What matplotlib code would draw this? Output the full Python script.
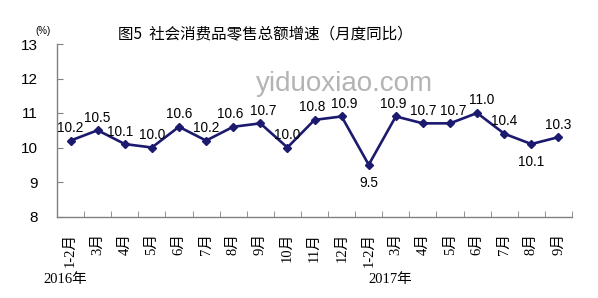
import matplotlib
matplotlib.use("Agg")
import matplotlib.pyplot as plt
from matplotlib.ticker import FixedLocator
import matplotlib.transforms as mtransforms

months = ["1-2月", "3月", "4月", "5月", "6月", "7月", "8月", "9月", "10月", "11月", "12月",
          "1-2月", "3月", "4月", "5月", "6月", "7月", "8月", "9月"]
values = [10.2, 10.5, 10.1, 10.0, 10.6, 10.2, 10.6, 10.7, 10.0, 10.8, 10.9,
          9.5, 10.9, 10.7, 10.7, 11.0, 10.4, 10.1, 10.3]
label_below = [False] * 11 + [True] + [False] * 5 + [True, False]
years = ["2016年", "2017年"]
year_pos = [-0.19, 11.81]
yticks = [8, 9, 10, 11, 12, 13]
title = "图5  社会消费品零售总额增速（月度同比）"

# small horizontal nudges (points) so neighbouring labels just touch, as in the reference
label_dx = [0, 0, -3, 0, 0, 0, -2, 2, 0, -2, 2, 0, -2, 0, 2, 3, 0, 0, 0]

plt.rcParams['font.family'] = ['Liberation Sans', 'Noto Sans CJK SC', 'DejaVu Sans']

fig = plt.figure(figsize=(5.98, 2.98), dpi=100)
ax = fig.add_axes([57/598, 1 - 216.5/298, 515/598, 172.5/298])

x = list(range(len(values)))
navy = "#1b1a6e"
ax.plot(x, values, color=navy, lw=1.9, marker="D", ms=4.5, mfc=navy, mec=navy, zorder=3)

for xi, v, below, dx in zip(x, values, label_below, label_dx):
    off = -13 if below else 9
    ax.annotate(f"{v:.1f}", (xi, v), xytext=(dx, off), textcoords="offset points",
                ha="center", va="center", fontsize=9.8, color="black")

ax.set_xlim(-0.5, len(values) - 0.5)
ax.set_ylim(8, 13)
ax.set_yticks(yticks)
ax.set_yticklabels([str(t) for t in yticks], fontsize=11)
ax.set_xticks(x)
ax.set_xticklabels(months, rotation=90, fontsize=10.5,
                   fontfamily=['Liberation Serif', 'Noto Sans CJK SC'])
ax.xaxis.set_minor_locator(FixedLocator([i + 0.5 for i in range(-1, len(values))]))
ax.tick_params(axis="x", which="major", length=0, pad=12)
ax.tick_params(axis="x", which="minor", direction="in", length=4, color="#808080")
ax.tick_params(axis="y", direction="in", length=4, color="#808080", pad=14)

for s in ["top", "right"]:
    ax.spines[s].set_visible(False)
for s in ["left", "bottom"]:
    ax.spines[s].set_color("#808080")
    ax.spines[s].set_linewidth(1.0)

trans = mtransforms.blended_transform_factory(ax.transData, fig.transFigure)
for yr, xp in zip(years, year_pos):
    ax.text(xp, 19/298, yr, transform=trans, ha="center", va="center", fontsize=10.5,
            fontfamily=['Liberation Serif', 'Noto Sans CJK SC'])

fig.text(265/598, 1 - 35/298, title, ha="center", va="center", fontsize=11.2,
         fontfamily=['Noto Sans CJK SC', 'DejaVu Sans'])
fig.text(43/598, 1 - 31/298, "(%)", ha="center", va="center", fontsize=7)
fig.text(345/598, 1 - 84/298, "yiduoxiao.com", ha="center", va="center",
         fontsize=20, color="#b4b4b4", zorder=0)

fig.savefig("out.png", dpi=100)
